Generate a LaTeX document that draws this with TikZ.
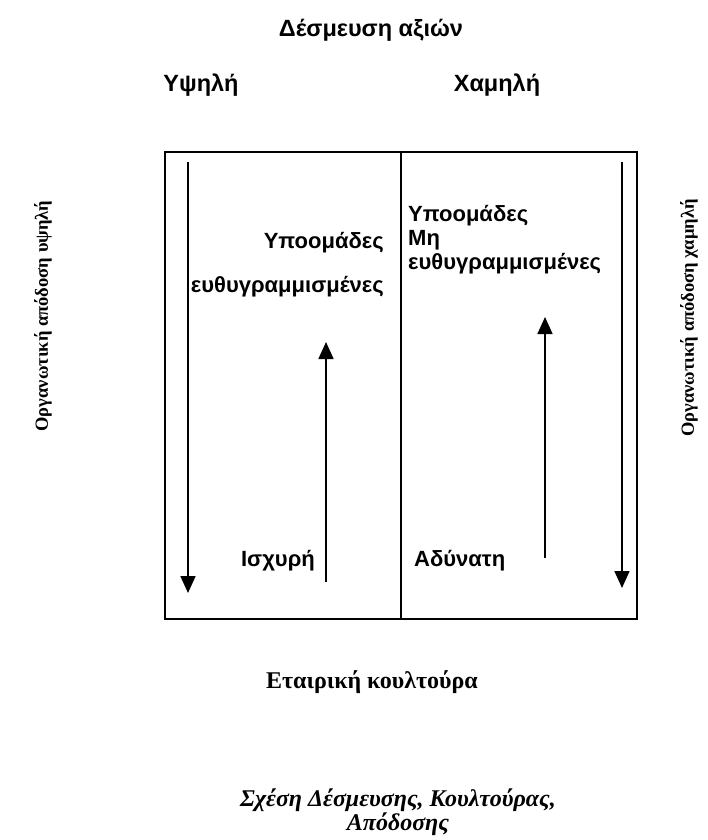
\documentclass[tikz,border=0pt]{standalone}
\usepackage{fontspec}
\setmainfont{Liberation Serif}
\newfontfamily\grsans{Liberation Sans}
\usetikzlibrary{arrows.meta}

\begin{document}
\begin{tikzpicture}[
                x=1pt, y=-1pt,
                every node/.style={inner sep=0pt},
                head/.style={font=\grsans\bfseries\fontsize{23.5}{27}\selectfont},
                cell/.style={font=\grsans\bfseries\fontsize{22}{24}\selectfont},
                side/.style={font=\bfseries\fontsize{18.5}{22}\selectfont, rotate=90},
                caption/.style={font=\bfseries\itshape\fontsize{24}{22}\selectfont, align=center},
                frame/.style={draw, line width=2pt},
                arrow/.style={-{Triangle[width=15pt, length=17pt]}, line width=1.6pt},
            ]
            \useasboundingbox (0,0) rectangle (708,840);

            % Nodes
            \node[head] (title) at (371,30) {Δέσμευση αξιών};
            \node[head] (high) at (201,85) {Υψηλή};
            \node[head] (low) at (497,85) {Χαμηλή};

            \node[side] (perfhigh) at (43,316) {Οργανωτική απόδοση υψηλή};
            \node[side] (perflow) at (689,318) {Οργανωτική απόδοση χαμηλή};

            \node[cell, align=right, anchor=east] (aligned) at (384,265) {Υποομάδες\\[20pt]ευθυγραμμισμένες};
            \node[cell, align=left, anchor=west] (unaligned) at (408,240) {Υποομάδες\\Μη\\ευθυγραμμισμένες};
            \node[cell, anchor=east] (strong) at (315,561) {Ισχυρή};
            \node[cell, anchor=west] (weak) at (414,561) {Αδύνατη};

            \node[font=\bfseries\fontsize{24}{27}\selectfont] (culture) at (372,682) {Εταιρική κουλτούρα};
            \node[caption] (cap) at (398,812) {Σχέση Δέσμευσης, Κουλτούρας,\\Απόδοσης};

            % Box
            \draw[frame] (165,152) rectangle (637,619);
            \draw[frame] (401,152) -- (401,619);

            % Arrows
            \coordinate (ldtop) at (188,162);
            \coordinate (ldend) at (188,593);
            \coordinate (rdtop) at (622,162);
            \coordinate (rdend) at (622,588);
            \coordinate (lubot) at (326,582);
            \coordinate (luend) at (326,342);
            \coordinate (rubot) at (545,558);
            \coordinate (ruend) at (545,317);
            \draw[arrow] (ldtop) -- (ldend);
            \draw[arrow] (rdtop) -- (rdend);
            \draw[arrow] (lubot) -- (luend);
            \draw[arrow] (rubot) -- (ruend);

            \end{tikzpicture}
\end{document}
